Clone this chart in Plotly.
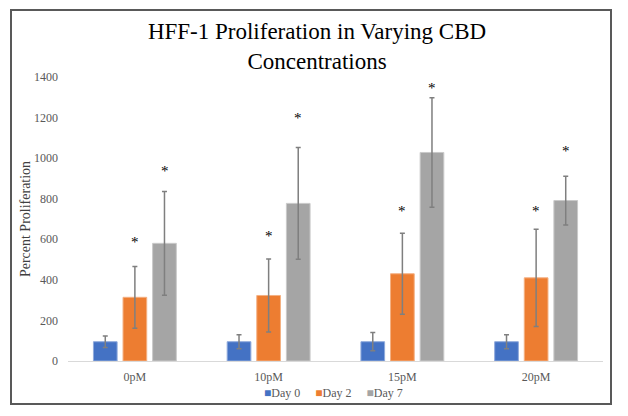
import plotly.graph_objects as go

categories = ["0pM", "10pM", "15pM", "20pM"]
series_names = ["Day 0", "Day 2", "Day 7"]
day0 = [95, 95, 95, 95]
day0_err = [28, 35, 45, 35]
day2 = [314, 323, 430, 410]
day2_err = [152, 180, 200, 240]
day7 = [580, 777, 1028, 791]
day7_err = [256, 276, 270, 120]
colors = ["#4472C4", "#ED7D31", "#A5A5A5"]
edge_colors = ["#8FAADC", "#F4B183", "#C9C9C9"]

# significance markers: (series index, category, label, y value)
sig_marks = [
    (1, "0pM", "*", 588), (2, "0pM", "*", 936),
    (1, "10pM", "*", 617), (2, "10pM", "*", 1196),
    (1, "15pM", "*", 739), (2, "15pM", "*", 1347), (2, "15pM", "†", 1438),
    (1, "20pM", "*", 739), (2, "20pM", "*", 1035),
]

values = [day0, day2, day7]
errors = [day0_err, day2_err, day7_err]

# the page has an 8px body margin, so the figure is laid out 8px up/left
OFF = 8
W, H = 628 - OFF, 416 - OFF
L, T = 68 - OFF, 77 - OFF
pw, ph = 535, 284
R, B = W - L - pw, H - T - ph

fig = go.Figure()
for name, v, e, c, ec in zip(series_names, values, errors, colors, edge_colors):
    fig.add_trace(go.Bar(
        name=name, x=categories, y=v, showlegend=False,
        marker=dict(color=c, line=dict(color=ec, width=1)),
        error_y=dict(type="data", array=e, visible=True, color="#7F7F7F",
                     thickness=1.5, width=2.5),
    ))

slot_px = 29.7
for si, cat, lab, yv in sig_marks:
    fig.add_annotation(
        x=cat, y=yv, text=lab, showarrow=False, xref="x", yref="y",
        xshift=(si - 1) * slot_px, yanchor="middle",
        font=dict(family="Liberation Serif", size=15, color="#000000"),
    )

# legend drawn as text with coloured squares
legend_html = "&nbsp;&nbsp;&nbsp;&nbsp;&nbsp;".join(
    f"<span style='color:{c}'>■</span>{n}" for n, c in zip(series_names, colors)
)
fig.add_annotation(
    xref="paper", yref="paper", x=(333 - 68) / pw, y=-(393 - 361) / ph,
    text=legend_html, showarrow=False, xanchor="center", yanchor="middle",
    font=dict(family="Liberation Serif", size=12, color="#595959"),
)

fig.add_shape(type="rect", xref="paper", yref="paper",
              x0=(11 - 68) / pw, x1=(611 - 68) / pw,
              y0=(361 - 404) / ph, y1=(361 - 10) / ph,
              line=dict(color="#595959", width=2), fillcolor="rgba(0,0,0,0)")

fig.update_layout(
    width=W, height=H,
    margin=dict(l=L, r=R, t=T, b=B),
    paper_bgcolor="white", plot_bgcolor="white",
    barmode="group", bargap=0.336, bargroupgap=0.2,
    title=dict(text="HFF-1 Proliferation in Varying CBD<br>Concentrations",
               x=(317 - OFF) / W, xanchor="center", y=1 - 31 / H, yanchor="top",
               font=dict(family="Liberation Serif", size=23, color="#000000")),
    font=dict(family="Liberation Serif", size=12, color="#595959"),
    xaxis=dict(showline=True, linecolor="#D9D9D9", linewidth=1, ticks="",
               ticklabelstandoff=5,
               tickfont=dict(family="Liberation Serif", size=12, color="#595959"),
               showgrid=False, automargin=False),
    yaxis=dict(range=[0, 1400], dtick=200, showgrid=False, zeroline=False,
               showline=False, ticks="", automargin=False, ticklabelstandoff=9,
               tickfont=dict(family="Liberation Serif", size=12, color="#595959"),
               title=dict(text="Percent Proliferation", standoff=0,
                          font=dict(family="Liberation Serif", size=14, color="#404040"))),
    showlegend=False,
)

fig.write_html("out.html")
